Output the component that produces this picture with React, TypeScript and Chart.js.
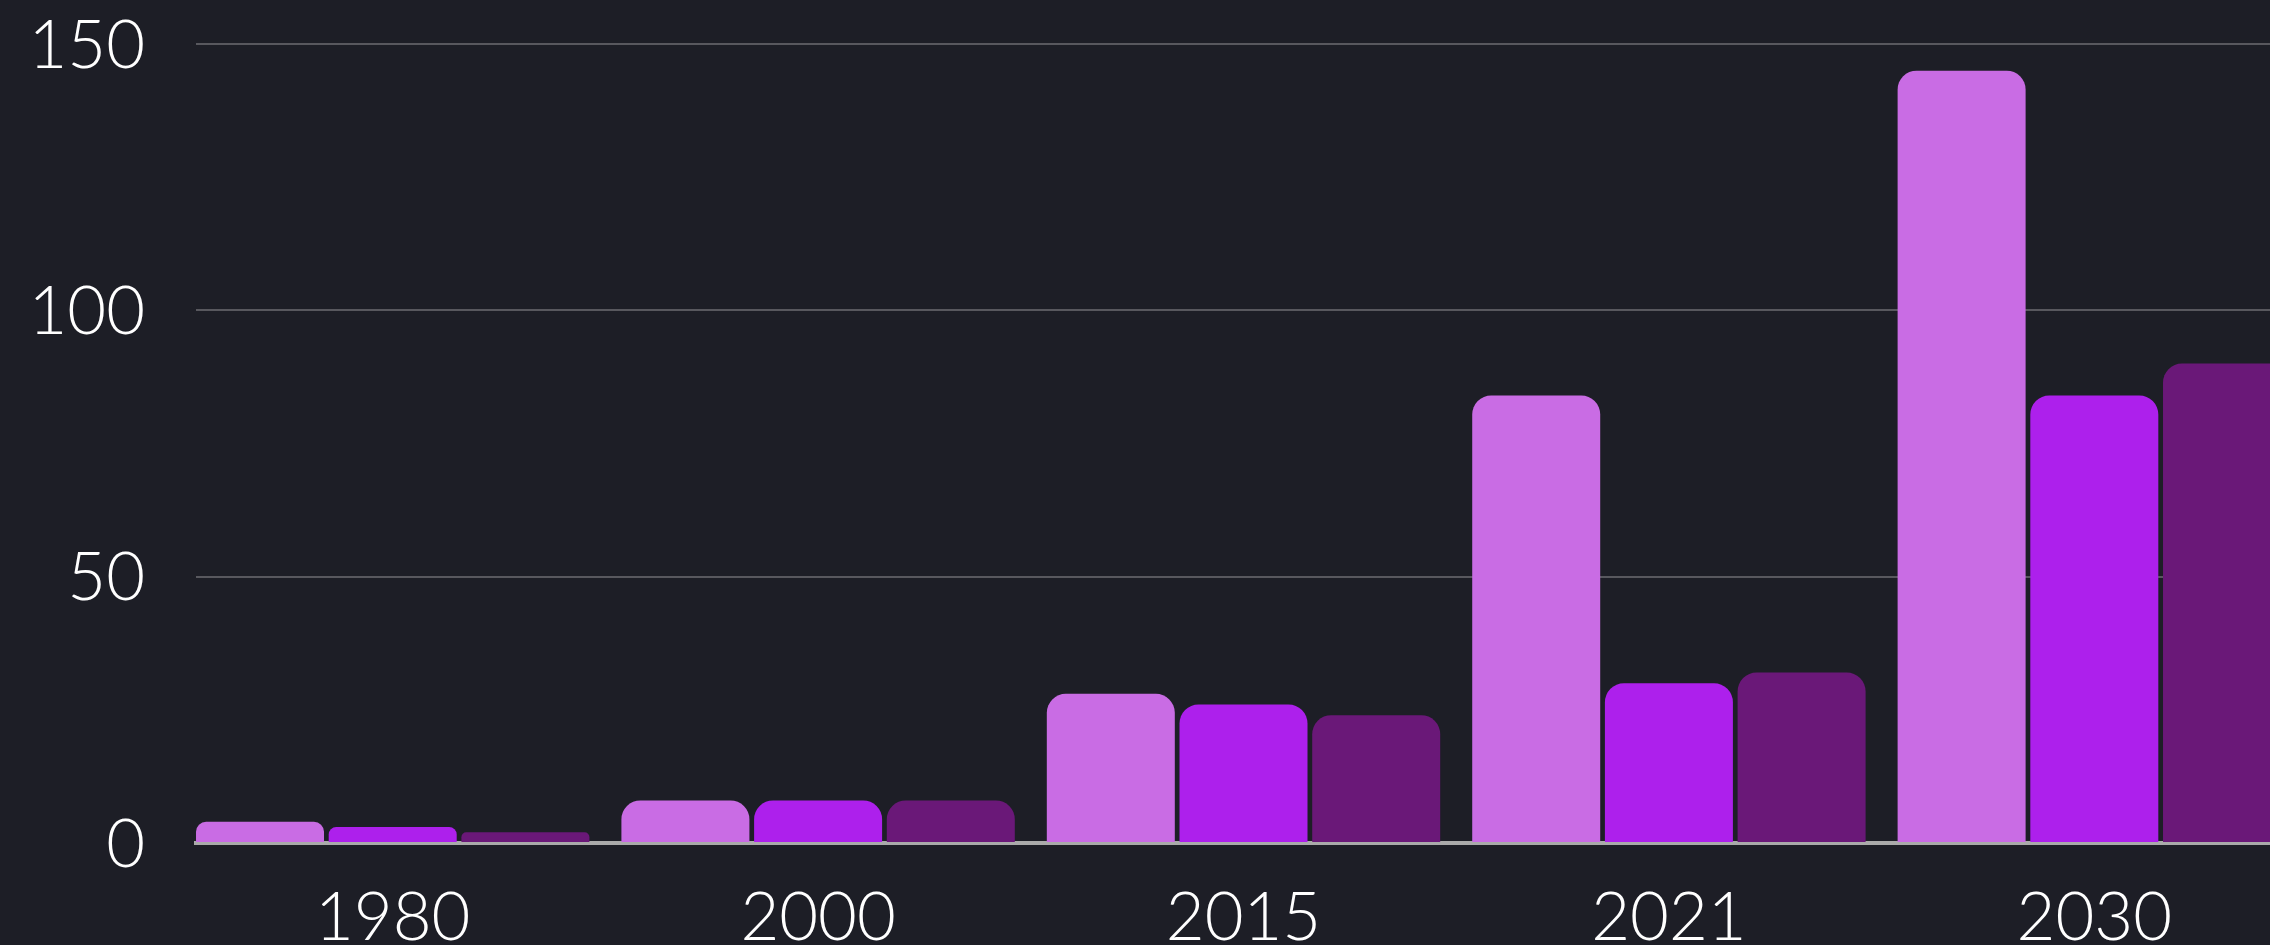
import React, { useEffect, useRef } from "react";
import { Chart, registerables } from "chart.js";

Chart.register(...registerables);

// Data
const categories: string[] = ["1980", "2000", "2015", "2021", "2030"];
const seriesA: number[] = [4, 8, 28, 84, 145];
const seriesB: number[] = [3, 8, 26, 30, 84];
const seriesC: number[] = [2, 8, 24, 32, 90];
const seriesNames: string[] = ["Series A", "Series B", "Series C"];
const yTicks: number[] = [0, 50, 100, 150];

const colors = ["#c96ce4", "#ad20ec", "#6a1878"];
const BG = "#1d1e26";

export default function App() {
  const canvasRef = useRef<HTMLCanvasElement | null>(null);

  useEffect(() => {
    const canvas = canvasRef.current;
    if (!canvas) return;
    const all = [seriesA, seriesB, seriesC];
    const font = { family: "Lato, 'DejaVu Sans', sans-serif", size: 67, weight: "300" as any, lineHeight: 1.2 };
    const chart = new Chart(canvas, {
      type: "bar",
      data: {
        datasets: all.map((vals, k) => ({
          label: seriesNames[k],
          data: vals.map((v, i) => ({ x: i, y: v })),
          backgroundColor: colors[k],
          borderWidth: 0,
          borderRadius: { topLeft: 19, topRight: 19, bottomLeft: 0, bottomRight: 0 },
          borderSkipped: "start" as const,
          categoryPercentage: 0.9358,
          barPercentage: 0.9646,
        })),
      },
      options: {
        animation: false,
        responsive: true,
        maintainAspectRatio: false,
        layout: { padding: { top: 44, left: 0, right: 0, bottom: 0 } },
        plugins: { legend: { display: false }, tooltip: { enabled: false }, title: { display: false } },
        scales: {
          x: {
            type: "linear",
            min: -0.4624,
            max: 4.413,
            bounds: "data",
            offset: false,
            grace: 0,
            grid: { display: false, drawTicks: false, offset: false },
            border: { display: true, color: "#aaaaaa", width: 4 },
            afterBuildTicks: (scale: any) => {
              scale.ticks = categories.map((_, i) => ({ value: i }));
            },
            ticks: {
              autoSkip: false,
              maxRotation: 0,
              color: "#ffffff",
              font,
              padding: 35,
              callback: (v: any) => {
                const i = Math.round(Number(v));
                return categories[i] !== undefined ? categories[i] : "";
              },
            },
            afterFit: (scale: any) => {
              scale.height = 102;
              scale.paddingLeft = 0;
              scale.paddingRight = 0;
            },
          },
          y: {
            min: 0,
            max: 150,
            grid: { color: "#58585e", lineWidth: 2, drawTicks: false },
            border: { display: false },
            afterBuildTicks: (scale: any) => {
              scale.ticks = yTicks.map((v) => ({ value: v }));
            },
            ticks: {
              color: "#ffffff",
              font,
              padding: 51,
              labelOffset: 2,
            },
            afterFit: (scale: any) => {
              scale.width = 196;
              scale.paddingTop = 0;
              scale.paddingBottom = 0;
            },
          },
        },
      },
    });
    return () => chart.destroy();
  }, []);

  return (
    <div
      style={{
        position: "fixed",
        left: 0,
        top: 0,
        width: "2270px",
        height: "945px",
        background: BG,
      }}
    >
      <canvas ref={canvasRef} />
    </div>
  );
}
